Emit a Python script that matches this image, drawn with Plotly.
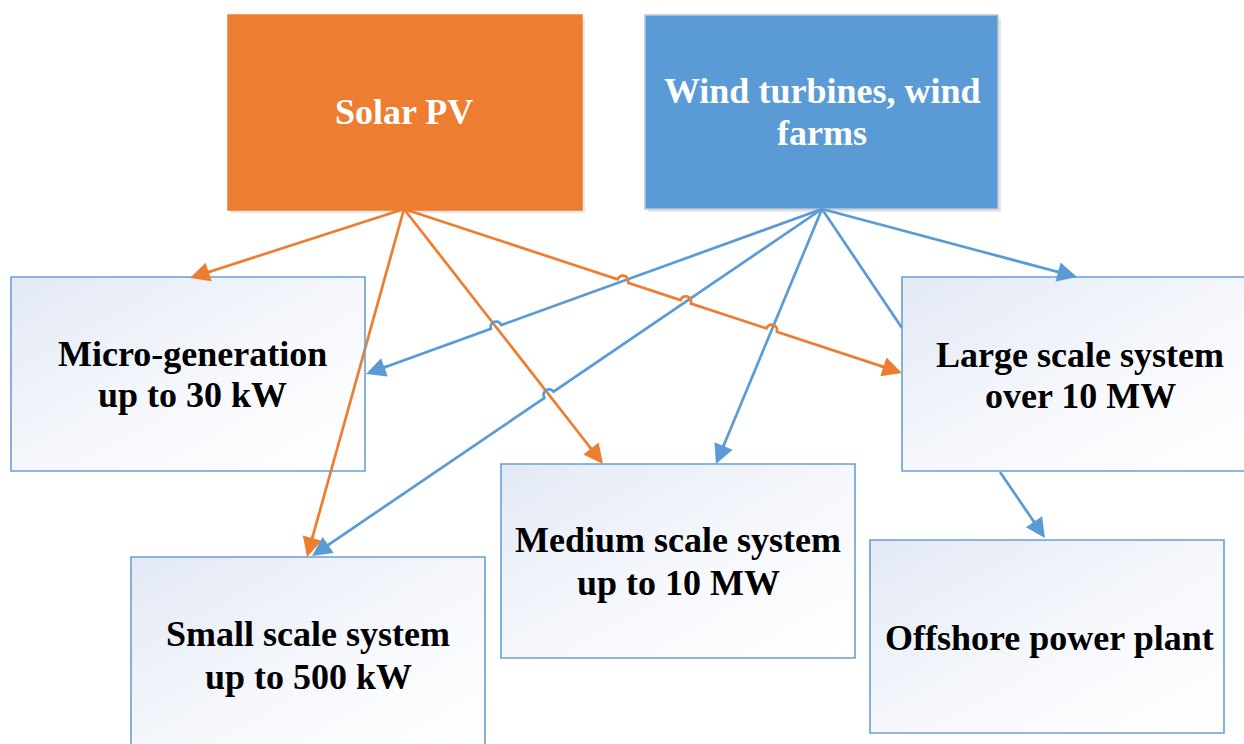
import numpy as np
import plotly.graph_objects as go

# ---- diagram content -------------------------------------------------------
node_ids = ["solar", "wind", "micro", "small", "medium", "large", "offshore"]
node_lines = [
    ["Solar PV"],
    ["Wind turbines, wind", "farms"],
    ["Micro-generation", "up to 30 kW"],
    ["Small scale system", "up to 500 kW"],
    ["Medium scale system", "up to 10 MW"],
    ["Large scale system", "over 10 MW"],
    ["Offshore power plant"],
]

# ---- geometry (pixel space, y grows downward) -------------------------------
W, H = 1244, 744
boxes = {
    "solar": (228, 582, 15, 210),
    "wind": (645, 998, 15, 209),
    "micro": (11, 365, 277, 471),
    "small": (131, 485, 557, 760),
    "medium": (501, 855, 464, 658),
    "large": (902, 1260, 277, 471),
    "offshore": (870, 1224, 540, 733),
}
label_x = {"solar": 404, "wind": 822, "micro": 192, "small": 308,
           "medium": 678, "large": 1080, "offshore": 1049}
label_y = {"solar": [112], "wind": [91, 133], "micro": [354, 395],
           "small": [634, 677], "medium": [540, 583],
           "large": [355, 396], "offshore": [638]}

ORANGE = "#ED7D31"
BLUE = "#5B9BD5"
solid_fill = {"solar": ORANGE, "wind": BLUE}

# connectors: name, start, end, colour, arrowhead, connectors it hops over
edges = [
    ("s_micro", (404, 209), (190, 278), ORANGE, True, []),
    ("s_small", (404, 209), (307, 557), ORANGE, True, []),
    ("s_medium", (404, 209), (603, 464), ORANGE, True, []),
    ("w_micro", (822, 209), (366, 374), BLUE, True, ["s_medium"]),
    ("w_small", (822, 209), (312, 556), BLUE, True, ["s_medium"]),
    ("w_medium", (822, 209), (716, 464), BLUE, True, []),
    ("w_large_top", (822, 209), (1077, 277), BLUE, True, []),
    ("w_large_side", (822, 209), (902, 328), BLUE, False, []),
    ("s_large", (404, 209), (902, 373), ORANGE, True,
     ["w_micro", "w_small", "w_medium"]),
    ("l_offshore", (1000, 472), (1045, 538), BLUE, True, []),
]
edge_map = {e[0]: e for e in edges}


def intersect(p1, p2, q1, q2):
    p1, p2, q1, q2 = map(np.asarray, (p1, p2, q1, q2))
    r, s = p2 - p1, q2 - q1
    den = r[0] * s[1] - r[1] * s[0]
    if abs(den) < 1e-9:
        return None
    t = ((q1 - p1)[0] * s[1] - (q1 - p1)[1] * s[0]) / den
    u = ((q1 - p1)[0] * r[1] - (q1 - p1)[1] * r[0]) / den
    if 0 < t < 1 and 0 < u < 1:
        return t
    return None


def connector_path(start, end, hop_over, radius=5.5):
    p1, p2 = np.asarray(start, float), np.asarray(end, float)
    d = p2 - p1
    length = np.hypot(*d)
    ts = []
    for other in hop_over:
        o = edge_map[other]
        t = intersect(p1, p2, o[1], o[2])
        if t is not None:
            ts.append(t)
    ts.sort()
    unit = d / length
    normal = np.array([unit[1], -unit[0]])
    if normal[1] > 0:
        normal = -normal
    xs, ys = [p1[0]], [p1[1]]
    for t in ts:
        c = p1 + d * t
        for a in np.linspace(np.pi, 0, 13):
            pt = c + unit * radius * np.cos(a) + normal * radius * np.sin(a)
            xs.append(pt[0])
            ys.append(pt[1])
    # stop the stroke a little short so the arrowhead tip stays sharp
    xs.append(p2[0] - unit[0] * 6)
    ys.append(p2[1] - unit[1] * 6)
    return xs, ys


fig = go.Figure()
shapes = []
annotations = []

# boxes
for nid in node_ids:
    x0, x1, y0, y1 = boxes[nid]
    if nid in solid_fill:
        shapes.append(dict(type="rect", xref="x", yref="y", layer="below",
                           x0=x0 + 3, x1=x1 + 3, y0=y0 + 3, y1=y1 + 3,
                           fillcolor="rgba(120,120,120,0.18)", line_width=0))
        shapes.append(dict(type="rect", xref="x", yref="y", layer="below",
                           x0=x0, x1=x1, y0=y0, y1=y1,
                           fillcolor=solid_fill[nid],
                           line=dict(color="#B9C6D8" if nid == "wind" else solid_fill[nid],
                                     width=1.5)))
    else:
        n = 16
        gx = np.linspace(x0, x1, n + 1)
        gy = np.linspace(y0, y1, n + 1)
        z = [[(i + j) / (2 * (n - 1)) for j in range(n)] for i in range(n)]
        fig.add_trace(go.Heatmap(
            x=gx, y=gy, z=z, zmin=0, zmax=1, zsmooth="best",
            colorscale=[[0, "#E4EAF5"], [0.55, "#F6F8FC"], [1, "#FFFFFF"]],
            showscale=False, hoverinfo="skip"))

# connectors
for name, start, end, color, head, hops in edges:
    xs, ys = connector_path(start, end, hops)
    if not head:
        xs[-1], ys[-1] = end
    fig.add_trace(go.Scatter(x=xs, y=ys, mode="lines",
                             line=dict(color=color, width=2.7),
                             hoverinfo="skip", showlegend=False))
    if head:
        d = np.asarray(end, float) - np.asarray(start, float)
        back = np.asarray(end, float) - d / np.hypot(*d) * 24
        annotations.append(dict(
            x=end[0], y=end[1], ax=back[0], ay=back[1],
            xref="x", yref="y", axref="x", ayref="y", text="",
            showarrow=True, arrowhead=2, arrowsize=1.45, arrowwidth=2.7,
            arrowcolor=color, standoff=0, startstandoff=0))

# borders for the pale boxes, above the connectors
for nid in node_ids:
    if nid in solid_fill:
        continue
    x0, x1, y0, y1 = boxes[nid]
    shapes.append(dict(type="rect", xref="x", yref="y", layer="above",
                       x0=x0, x1=x1, y0=y0, y1=y1,
                       fillcolor="rgba(0,0,0,0)",
                       line=dict(color="#6A9FD3", width=1.6)))

# labels
for nid, lines in zip(node_ids, node_lines):
    color = "white" if nid in solid_fill else "black"
    for text, y in zip(lines, label_y[nid]):
        annotations.append(dict(
            x=label_x[nid], y=y, xref="x", yref="y", text=f"<b>{text}</b>",
            showarrow=False, xanchor="center", yanchor="middle",
            font=dict(family="Liberation Serif, Times New Roman, serif",
                      size=36, color=color)))

fig.update_layout(
    width=W, height=H, margin=dict(l=0, r=0, t=0, b=0),
    paper_bgcolor="white", plot_bgcolor="white",
    xaxis=dict(range=[0, W], visible=False, fixedrange=True),
    yaxis=dict(range=[H, 0], visible=False, fixedrange=True),
    showlegend=False, shapes=shapes, annotations=annotations,
)

fig.write_html("out.html")
